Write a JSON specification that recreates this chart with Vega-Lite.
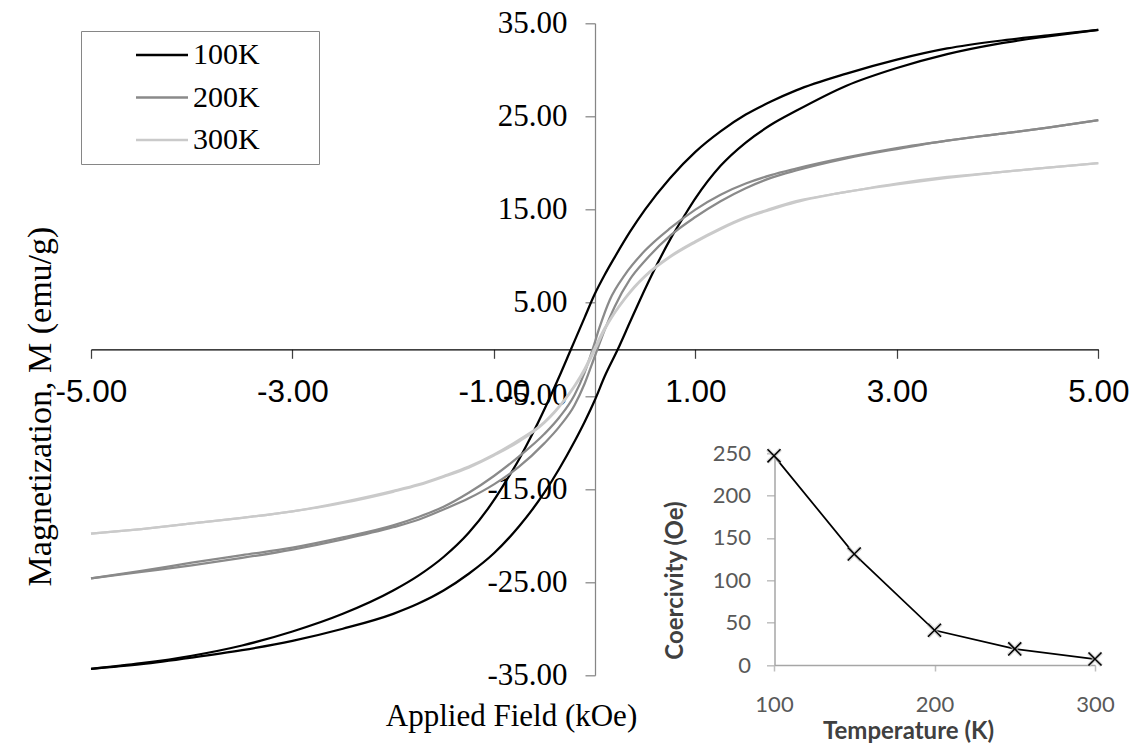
{
  "$schema": "https://vega.github.io/schema/vega-lite/v6.json",
  "width": 1007.3,
  "height": 652,
  "autosize": {"type": "none"},
  "padding": {"left": 91, "top": 23.3, "right": 35.7, "bottom": 69.7},
  "background": "white",
  "config": {"view": {"stroke": null}, "axis": {"grid": false}},
  "datasets": {
    "loops": [
      {"T":"100K","b":"d","H":5,"M":34.3},{"T":"100K","b":"d","H":4.5,"M":33.7},{"T":"100K","b":"d","H":4,"M":33.1},{"T":"100K","b":"d","H":3.5,"M":32.3},{"T":"100K","b":"d","H":3,"M":31.1},{"T":"100K","b":"d","H":2.5,"M":29.6},{"T":"100K","b":"d","H":2,"M":27.8},{"T":"100K","b":"d","H":1.75,"M":26.6},{"T":"100K","b":"d","H":1.5,"M":25.2},{"T":"100K","b":"d","H":1.25,"M":23.4},{"T":"100K","b":"d","H":1,"M":21.2},{"T":"100K","b":"d","H":0.75,"M":18.4},{"T":"100K","b":"d","H":0.5,"M":15.0},{"T":"100K","b":"d","H":0.35,"M":12.6},{"T":"100K","b":"d","H":0.2,"M":9.9},{"T":"100K","b":"d","H":0.1,"M":8.0},{"T":"100K","b":"d","H":0,"M":5.9},{"T":"100K","b":"d","H":-0.1,"M":3.4},{"T":"100K","b":"d","H":-0.235,"M":0},{"T":"100K","b":"d","H":-0.35,"M":-2.9},{"T":"100K","b":"d","H":-0.45,"M":-5.3},{"T":"100K","b":"d","H":-0.6,"M":-8.7},{"T":"100K","b":"d","H":-0.75,"M":-11.8},{"T":"100K","b":"d","H":-0.9,"M":-14.5},{"T":"100K","b":"d","H":-1,"M":-16.2},{"T":"100K","b":"d","H":-1.25,"M":-19.7},{"T":"100K","b":"d","H":-1.5,"M":-22.3},{"T":"100K","b":"d","H":-1.75,"M":-24.3},{"T":"100K","b":"d","H":-2,"M":-25.9},{"T":"100K","b":"d","H":-2.5,"M":-28.4},{"T":"100K","b":"d","H":-3,"M":-30.3},{"T":"100K","b":"d","H":-3.5,"M":-31.8},{"T":"100K","b":"d","H":-4,"M":-32.9},{"T":"100K","b":"d","H":-4.5,"M":-33.7},{"T":"100K","b":"d","H":-5,"M":-34.3},
      {"T":"100K","b":"a","H":-5,"M":-34.3},{"T":"100K","b":"a","H":-4.5,"M":-33.8},{"T":"100K","b":"a","H":-4,"M":-33.1},{"T":"100K","b":"a","H":-3.5,"M":-32.3},{"T":"100K","b":"a","H":-3,"M":-31.3},{"T":"100K","b":"a","H":-2.5,"M":-30.0},{"T":"100K","b":"a","H":-2,"M":-28.4},{"T":"100K","b":"a","H":-1.75,"M":-27.3},{"T":"100K","b":"a","H":-1.5,"M":-25.9},{"T":"100K","b":"a","H":-1.25,"M":-24.1},{"T":"100K","b":"a","H":-1,"M":-21.9},{"T":"100K","b":"a","H":-0.75,"M":-19.0},{"T":"100K","b":"a","H":-0.5,"M":-15.4},{"T":"100K","b":"a","H":-0.35,"M":-12.8},{"T":"100K","b":"a","H":-0.2,"M":-9.9},{"T":"100K","b":"a","H":-0.1,"M":-7.8},{"T":"100K","b":"a","H":0,"M":-5.5},{"T":"100K","b":"a","H":0.1,"M":-2.9},{"T":"100K","b":"a","H":0.23,"M":0},{"T":"100K","b":"a","H":0.35,"M":2.9},{"T":"100K","b":"a","H":0.45,"M":5.3},{"T":"100K","b":"a","H":0.6,"M":8.7},{"T":"100K","b":"a","H":0.75,"M":11.8},{"T":"100K","b":"a","H":0.9,"M":14.5},{"T":"100K","b":"a","H":1,"M":16.2},{"T":"100K","b":"a","H":1.25,"M":19.7},{"T":"100K","b":"a","H":1.5,"M":22.2},{"T":"100K","b":"a","H":1.75,"M":24.1},{"T":"100K","b":"a","H":2,"M":25.6},{"T":"100K","b":"a","H":2.5,"M":28.3},{"T":"100K","b":"a","H":3,"M":30.2},{"T":"100K","b":"a","H":3.5,"M":31.7},{"T":"100K","b":"a","H":4,"M":32.8},{"T":"100K","b":"a","H":4.5,"M":33.6},{"T":"100K","b":"a","H":5,"M":34.3},
      {"T":"200K","b":"d","H":5,"M":24.6},{"T":"200K","b":"d","H":4.5,"M":23.8},{"T":"200K","b":"d","H":4,"M":23.1},{"T":"200K","b":"d","H":3.5,"M":22.4},{"T":"200K","b":"d","H":3,"M":21.6},{"T":"200K","b":"d","H":2.5,"M":20.6},{"T":"200K","b":"d","H":2,"M":19.4},{"T":"200K","b":"d","H":1.75,"M":18.7},{"T":"200K","b":"d","H":1.5,"M":17.8},{"T":"200K","b":"d","H":1.25,"M":16.6},{"T":"200K","b":"d","H":1,"M":15.0},{"T":"200K","b":"d","H":0.75,"M":13.0},{"T":"200K","b":"d","H":0.5,"M":10.6},{"T":"200K","b":"d","H":0.3,"M":8.0},{"T":"200K","b":"d","H":0.15,"M":5.3},{"T":"200K","b":"d","H":0.05,"M":2.4},{"T":"200K","b":"d","H":-0.02,"M":0},{"T":"200K","b":"d","H":-0.1,"M":-2.5},{"T":"200K","b":"d","H":-0.2,"M":-4.9},{"T":"200K","b":"d","H":-0.35,"M":-7.3},{"T":"200K","b":"d","H":-0.5,"M":-9.1},{"T":"200K","b":"d","H":-0.75,"M":-11.5},{"T":"200K","b":"d","H":-1,"M":-13.6},{"T":"200K","b":"d","H":-1.25,"M":-15.4},{"T":"200K","b":"d","H":-1.5,"M":-16.9},{"T":"200K","b":"d","H":-1.75,"M":-18.0},{"T":"200K","b":"d","H":-2,"M":-18.9},{"T":"200K","b":"d","H":-2.5,"M":-20.2},{"T":"200K","b":"d","H":-3,"M":-21.3},{"T":"200K","b":"d","H":-3.5,"M":-22.1},{"T":"200K","b":"d","H":-4,"M":-22.9},{"T":"200K","b":"d","H":-4.5,"M":-23.8},{"T":"200K","b":"d","H":-5,"M":-24.6},
      {"T":"200K","b":"a","H":-5,"M":-24.6},{"T":"200K","b":"a","H":-4.5,"M":-23.9},{"T":"200K","b":"a","H":-4,"M":-23.2},{"T":"200K","b":"a","H":-3.5,"M":-22.4},{"T":"200K","b":"a","H":-3,"M":-21.5},{"T":"200K","b":"a","H":-2.5,"M":-20.4},{"T":"200K","b":"a","H":-2,"M":-19.1},{"T":"200K","b":"a","H":-1.75,"M":-18.3},{"T":"200K","b":"a","H":-1.5,"M":-17.2},{"T":"200K","b":"a","H":-1.25,"M":-16.0},{"T":"200K","b":"a","H":-1,"M":-14.5},{"T":"200K","b":"a","H":-0.75,"M":-12.6},{"T":"200K","b":"a","H":-0.5,"M":-10.1},{"T":"200K","b":"a","H":-0.35,"M":-8.3},{"T":"200K","b":"a","H":-0.2,"M":-6.0},{"T":"200K","b":"a","H":-0.1,"M":-3.7},{"T":"200K","b":"a","H":0,"M":-0.8},{"T":"200K","b":"a","H":0.1,"M":2.1},{"T":"200K","b":"a","H":0.2,"M":4.6},{"T":"200K","b":"a","H":0.35,"M":7.5},{"T":"200K","b":"a","H":0.5,"M":9.5},{"T":"200K","b":"a","H":0.75,"M":12.2},{"T":"200K","b":"a","H":1,"M":14.2},{"T":"200K","b":"a","H":1.25,"M":15.9},{"T":"200K","b":"a","H":1.5,"M":17.3},{"T":"200K","b":"a","H":1.75,"M":18.4},{"T":"200K","b":"a","H":2,"M":19.2},{"T":"200K","b":"a","H":2.5,"M":20.5},{"T":"200K","b":"a","H":3,"M":21.5},{"T":"200K","b":"a","H":3.5,"M":22.4},{"T":"200K","b":"a","H":4,"M":23.1},{"T":"200K","b":"a","H":4.5,"M":23.8},{"T":"200K","b":"a","H":5,"M":24.6},
      {"T":"300K","b":"d","H":5,"M":20.0},{"T":"300K","b":"d","H":4.5,"M":19.5},{"T":"300K","b":"d","H":4,"M":19.0},{"T":"300K","b":"d","H":3.5,"M":18.5},{"T":"300K","b":"d","H":3,"M":17.8},{"T":"300K","b":"d","H":2.5,"M":16.9},{"T":"300K","b":"d","H":2,"M":15.9},{"T":"300K","b":"d","H":1.75,"M":15.1},{"T":"300K","b":"d","H":1.5,"M":14.2},{"T":"300K","b":"d","H":1.25,"M":13.0},{"T":"300K","b":"d","H":1,"M":11.6},{"T":"300K","b":"d","H":0.75,"M":10.0},{"T":"300K","b":"d","H":0.5,"M":7.9},{"T":"300K","b":"d","H":0.4,"M":6.8},{"T":"300K","b":"d","H":0.3,"M":5.5},{"T":"300K","b":"d","H":0.2,"M":4.0},{"T":"300K","b":"d","H":0.1,"M":2.3},{"T":"300K","b":"d","H":0,"M":0.15},{"T":"300K","b":"d","H":-0.1,"M":-2.1},{"T":"300K","b":"d","H":-0.2,"M":-3.9},{"T":"300K","b":"d","H":-0.3,"M":-5.4},{"T":"300K","b":"d","H":-0.4,"M":-6.7},{"T":"300K","b":"d","H":-0.5,"M":-7.8},{"T":"300K","b":"d","H":-0.75,"M":-9.7},{"T":"300K","b":"d","H":-1,"M":-11.3},{"T":"300K","b":"d","H":-1.25,"M":-12.6},{"T":"300K","b":"d","H":-1.5,"M":-13.6},{"T":"300K","b":"d","H":-1.75,"M":-14.5},{"T":"300K","b":"d","H":-2,"M":-15.2},{"T":"300K","b":"d","H":-2.5,"M":-16.4},{"T":"300K","b":"d","H":-3,"M":-17.4},{"T":"300K","b":"d","H":-3.5,"M":-18.1},{"T":"300K","b":"d","H":-4,"M":-18.7},{"T":"300K","b":"d","H":-4.5,"M":-19.3},{"T":"300K","b":"d","H":-5,"M":-19.8},
      {"T":"300K","b":"a","H":-5,"M":-19.8},{"T":"300K","b":"a","H":-4.5,"M":-19.3},{"T":"300K","b":"a","H":-4,"M":-18.7},{"T":"300K","b":"a","H":-3.5,"M":-18.1},{"T":"300K","b":"a","H":-3,"M":-17.4},{"T":"300K","b":"a","H":-2.5,"M":-16.5},{"T":"300K","b":"a","H":-2,"M":-15.3},{"T":"300K","b":"a","H":-1.75,"M":-14.6},{"T":"300K","b":"a","H":-1.5,"M":-13.7},{"T":"300K","b":"a","H":-1.25,"M":-12.7},{"T":"300K","b":"a","H":-1,"M":-11.4},{"T":"300K","b":"a","H":-0.75,"M":-9.9},{"T":"300K","b":"a","H":-0.5,"M":-7.9},{"T":"300K","b":"a","H":-0.4,"M":-6.8},{"T":"300K","b":"a","H":-0.3,"M":-5.5},{"T":"300K","b":"a","H":-0.2,"M":-4.0},{"T":"300K","b":"a","H":-0.1,"M":-2.3},{"T":"300K","b":"a","H":0,"M":-0.15},{"T":"300K","b":"a","H":0.1,"M":2.1},{"T":"300K","b":"a","H":0.2,"M":3.9},{"T":"300K","b":"a","H":0.3,"M":5.4},{"T":"300K","b":"a","H":0.4,"M":6.7},{"T":"300K","b":"a","H":0.5,"M":7.8},{"T":"300K","b":"a","H":0.75,"M":9.9},{"T":"300K","b":"a","H":1,"M":11.5},{"T":"300K","b":"a","H":1.25,"M":12.9},{"T":"300K","b":"a","H":1.5,"M":14.1},{"T":"300K","b":"a","H":1.75,"M":15.0},{"T":"300K","b":"a","H":2,"M":15.8},{"T":"300K","b":"a","H":2.5,"M":16.9},{"T":"300K","b":"a","H":3,"M":17.7},{"T":"300K","b":"a","H":3.5,"M":18.4},{"T":"300K","b":"a","H":4,"M":19.0},{"T":"300K","b":"a","H":4.5,"M":19.5},{"T":"300K","b":"a","H":5,"M":20.0}
    ],
    "coer": [
      {"K":100,"C":247},{"K":150,"C":131},{"K":200,"C":41},{"K":250,"C":19},{"K":300,"C":7}
    ]
  },
  "layer": [
    {
      "data": {"name": "loops"},
      "mark": {"type": "line", "interpolate": "monotone", "strokeWidth": 2.25},
      "encoding": {
        "x": {
          "field": "H", "type": "quantitative",
          "scale": {"domain": [-5, 5], "nice": false, "zero": false},
          "axis": {
            "orient": "bottom", "offset": -326,
            "values": [-5, -3, -1, 1, 3, 5],
            "labelExpr": "(datum.value < 0 ? '-' : '') + format(abs(datum.value), '.2f')",
            "labelFont": "Liberation Sans", "labelFontSize": 31.5, "labelColor": "#000000",
            "labelBaseline": "alphabetic", "labelPadding": 43.3,
            "labelFlush": false, "labelOverlap": false,
            "tickSize": 9, "tickColor": "#404040", "tickWidth": 1.25,
            "domainColor": "#000000", "domainWidth": 1.25,
            "title": "Applied Field (kOe)",
            "titleFont": "Liberation Serif", "titleFontSize": 31, "titleFontWeight": "normal", "titleColor": "#000000",
            "titleX": 420, "titleY": 375.7, "titleBaseline": "alphabetic", "titleAlign": "center"
          }
        },
        "y": {
          "field": "M", "type": "quantitative",
          "scale": {"domain": [-35, 35], "nice": false, "zero": false},
          "axis": {
            "orient": "left", "offset": -504,
            "values": [-35, -25, -15, -5, 5, 15, 25, 35],
            "labelExpr": "(datum.value < 0 ? '-' : '') + format(abs(datum.value), '.2f')",
            "labelFont": "Liberation Serif", "labelFontSize": 31, "labelColor": "#000000",
            "labelPadding": 18, "labelOverlap": false, "labelFlush": false,
            "tickSize": 10, "tickColor": "#868686", "tickWidth": 1.25,
            "domainColor": "#868686", "domainWidth": 1.25,
            "title": "Magnetization, M (emu/g)",
            "titleFont": "Liberation Serif", "titleFontSize": 34, "titleFontWeight": "normal", "titleColor": "#000000",
            "titleX": -555, "titleY": 382.7, "titleBaseline": "middle", "titleAlign": "center"
          }
        },
        "color": {
          "field": "T", "type": "nominal",
          "scale": {"domain": ["100K", "200K", "300K"], "range": ["#000000", "#8a8a8a", "#cacaca"]},
          "legend": {
            "title": null, "orient": "none", "legendX": -10, "legendY": 7.7,
            "symbolType": "M-2,0H2M11,0", "symbolSize": 676, "symbolStrokeWidth": 2.5,
            "symbolOffset": 57, "labelOffset": 16,
            "labelFont": "Liberation Serif", "labelFontSize": 30, "labelColor": "#000000",
            "rowPadding": 12.5, "padding": 9,
            "strokeColor": "#868686", "fillColor": "#ffffff"
          }
        },
        "detail": {"field": "b", "type": "nominal"}
      }
    },
    {
      "data": {"name": "coer"},
      "encoding": {
        "x": {
          "field": "K", "type": "quantitative",
          "scale": {"domain": [100, 300], "range": [683, 1004], "nice": false, "zero": false},
          "axis": {
            "orient": "bottom", "offset": -10.3,
            "values": [100, 200, 300],
            "labelFont": "Lato", "labelFontSize": 22, "labelColor": "#595959",
            "labelBaseline": "middle", "labelPadding": 33.5, "labelFlush": false, "labelOverlap": false,
            "tickSize": 6, "tickColor": "#bfbfbf", "tickWidth": 1.5,
            "domainColor": "#a6a6a6", "domainWidth": 1.5,
            "title": "Temperature (K)",
            "titleFont": "Lato", "titleFontSize": 24, "titleFontWeight": "bold", "titleColor": "#404040",
            "titleX": 817, "titleY": 66.7, "titleBaseline": "middle", "titleAlign": "center"
          }
        },
        "y": {
          "field": "C", "type": "quantitative",
          "scale": {"domain": [0, 250], "range": [641.7, 430], "nice": false, "zero": false},
          "axis": {
            "orient": "left", "offset": -683.5,
            "values": [0, 50, 100, 150, 200, 250],
            "labelFont": "Lato", "labelFontSize": 22, "labelColor": "#595959",
            "labelPadding": 16, "labelOverlap": false, "labelFlush": false,
            "tickSize": 8, "tickColor": "#bfbfbf", "tickWidth": 1.5,
            "domainColor": "#a6a6a6", "domainWidth": 1.5,
            "title": "Coercivity (Oe)",
            "titleFont": "Lato", "titleFontSize": 24, "titleFontWeight": "bold", "titleColor": "#404040",
            "titleX": -99.5, "titleY": 556.7, "titleBaseline": "middle", "titleAlign": "center"
          }
        }
      },
      "layer": [
        {"mark": {"type": "line", "color": "#000000", "strokeWidth": 1.75}},
        {"mark": {"type": "point", "shape": "M-1,-1L1,1M-1,1L1,-1", "size": 170, "filled": false, "stroke": "#c8c8c8", "strokeWidth": 4, "opacity": 0.7}},
        {"mark": {"type": "point", "shape": "M-1,-1L1,1M-1,1L1,-1", "size": 170, "filled": false, "stroke": "#000000", "strokeWidth": 1.5, "opacity": 1}}
      ]
    }
  ],
  "resolve": {
    "scale": {"x": "independent", "y": "independent"},
    "axis": {"x": "independent", "y": "independent"}
  }
}
